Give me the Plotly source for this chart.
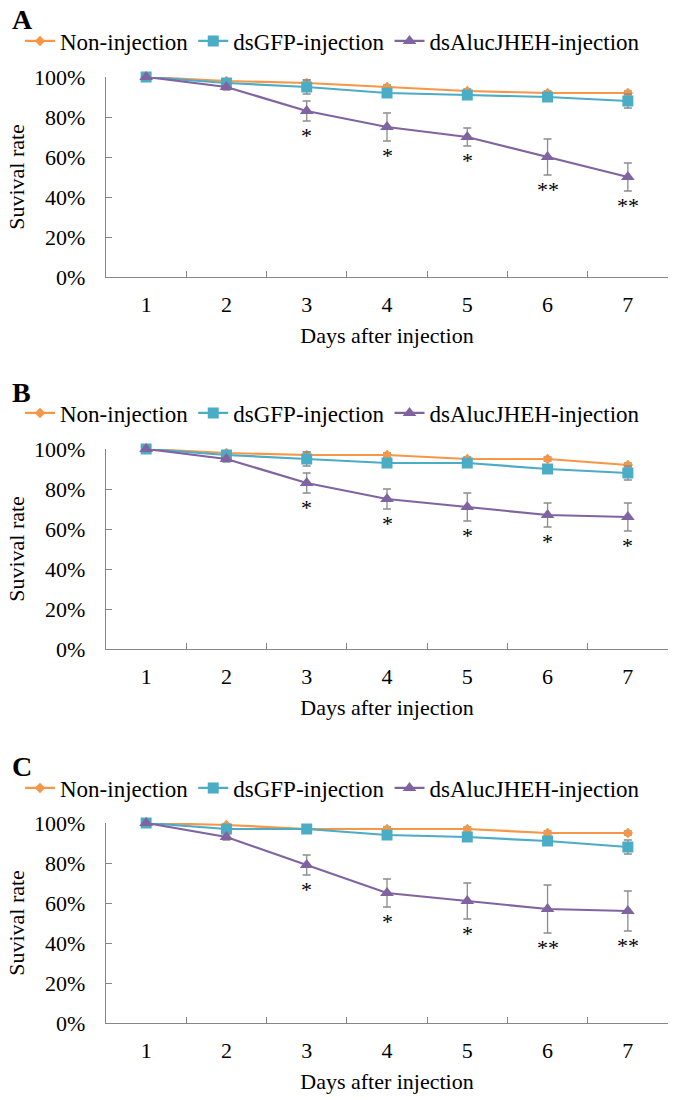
import plotly.graph_objects as go

# ---------------- data ----------------
days = ["1", "2", "3", "4", "5", "6", "7"]
series_names = ["Non-injection", "dsGFP-injection", "dsAlucJHEH-injection"]
panel_labels = ["A", "B", "C"]

# Panel A
a_non = [100, 98, 97, 95, 93, 92, 92]
a_gfp = [100, 97, 95, 92, 91, 90, 88]
a_jheh = [100, 95, 83, 75, 70, 60, 50]
a_non_err = [0, 1, 1.5, 1, 1, 1, 1]
a_gfp_err = [0, 1.5, 3.5, 1, 1, 1, 3.5]
a_jheh_err = [0, 1.5, 5, 7, 4.5, 9, 7]
a_sig = ["", "", "*", "*", "*", "**", "**"]

# Panel B
b_non = [100, 98, 97, 97, 95, 95, 92]
b_gfp = [100, 97, 95, 93, 93, 90, 88]
b_jheh = [100, 95, 83, 75, 71, 67, 66]
b_non_err = [0, 1, 1.5, 1, 1, 1, 1]
b_gfp_err = [0, 1.5, 3.5, 1, 1, 1, 3.5]
b_jheh_err = [0, 1.5, 5, 5, 7, 6, 7]
b_sig = ["", "", "*", "*", "*", "*", "*"]

# Panel C
c_non = [100, 99, 97, 97, 97, 95, 95]
c_gfp = [100, 97, 97, 94, 93, 91, 88]
c_jheh = [100, 93, 79, 65, 61, 57, 56]
c_non_err = [0, 1, 1, 1, 1, 1, 1]
c_gfp_err = [0, 1, 1, 1, 1, 1, 3.5]
c_jheh_err = [0, 1.5, 5, 7, 9, 12, 10]
c_sig = ["", "", "*", "*", "*", "**", "**"]

y_ticks = [0, 20, 40, 60, 80, 100]
y_ticklabels = ["0%", "20%", "40%", "60%", "80%", "100%"]

panels = [
    ([a_non, a_gfp, a_jheh], [a_non_err, a_gfp_err, a_jheh_err], a_sig),
    ([b_non, b_gfp, b_jheh], [b_non_err, b_gfp_err, b_jheh_err], b_sig),
    ([c_non, c_gfp, c_jheh], [c_non_err, c_gfp_err, c_jheh_err], c_sig),
]

# ---------------- style ----------------
W, H = 675, 1100
FONT = "Liberation Serif, Times New Roman, Times, serif"
colors = ["#F79646", "#4BACC6", "#8064A2"]
symbols = ["diamond", "square", "triangle-up"]
msizes = [8, 11, 12]
axis_gray = "#868686"
err_gray = "#8C8C8C"

# layout positions in page pixels
plot_left, plot_right = 106, 668
plot_tops = [77, 449, 823]
plot_h = 200
legend_y = [41, 413, 788]
legend_text_x = 60
letter_y = [19, 392, 766]
letter_x = 10


def px_x(v):
    return v / W


def px_y(v):
    return 1 - v / H


fig = go.Figure()
annotations = []
layout = {}

for p, (vals, errs, sig) in enumerate(panels):
    sfx = "" if p == 0 else str(p + 1)
    xa, ya = "x" + sfx, "y" + sfx
    leg = "legend" + sfx
    for s in range(3):
        fig.add_trace(go.Scatter(
            x=days, y=vals[s], name=series_names[s],
            xaxis=xa, yaxis=ya, legend=leg,
            mode="lines+markers",
            line=dict(color=colors[s], width=2.2),
            marker=dict(symbol=symbols[s], size=msizes[s], color=colors[s],
                        line=dict(width=0)),
            error_y=dict(type="data", array=errs[s], visible=True,
                         color=err_gray, thickness=1.3, width=4),
            cliponaxis=False,
        ))
    # significance marks below the dsAlucJHEH error bars (x = category index)
    for i, t in enumerate(sig):
        if t:
            annotations.append(dict(
                x=i, y=vals[2][i] - errs[2][i], xref=xa, yref=ya,
                text=t, showarrow=False, yanchor="top", yshift=0,
                font=dict(family=FONT, size=22, color="black")))
    top = plot_tops[p]
    ydom = [px_y(top + plot_h), px_y(top)]
    layout["xaxis" + sfx] = dict(
        domain=[px_x(plot_left), px_x(plot_right)], anchor=ya,
        type="category", range=[-0.5, 6.5], tickson="boundaries",
        ticks="inside", ticklen=6, tickcolor=axis_gray, tickwidth=1,
        showline=True, linecolor=axis_gray, linewidth=1.3,
        showgrid=False, zeroline=False, ticklabelstandoff=7,
        tickfont=dict(family=FONT, size=22, color="black"),
        title=dict(text="Days after injection", standoff=12,
                   font=dict(family=FONT, size=22, color="black")),
    )
    layout["yaxis" + sfx] = dict(
        domain=ydom, anchor=xa, range=[0, 100],
        tickmode="array", tickvals=y_ticks, ticktext=y_ticklabels,
        ticks="inside", ticklen=6, tickcolor=axis_gray,
        showline=True, linecolor=axis_gray, linewidth=1.3,
        showgrid=False, zeroline=False, ticklabelstandoff=15,
        tickfont=dict(family=FONT, size=22, color="black"),
        title=dict(text="Suvival rate", standoff=3,
                   font=dict(family=FONT, size=22, color="black")),
    )
    layout[leg] = dict(
        orientation="h", x=px_x(legend_text_x - 40), xanchor="left",
        y=px_y(legend_y[p]), yanchor="middle",
        font=dict(family=FONT, size=23, color="black"),
        bgcolor="rgba(0,0,0,0)", itemclick=False,
        tracegroupgap=0,
    )
    annotations.append(dict(
        x=px_x(letter_x), y=px_y(letter_y[p]), xref="paper", yref="paper",
        xanchor="left", yanchor="middle", showarrow=False,
        text="<b>" + panel_labels[p] + "</b>",
        font=dict(family=FONT, size=28, color="black")))

fig.update_layout(
    width=W, height=H,
    margin=dict(l=0, r=0, t=0, b=0, autoexpand=False),
    paper_bgcolor="white", plot_bgcolor="white",
    showlegend=True,
    annotations=annotations,
    **layout,
)

# place the figure flush with the page corner (no default body margin)
fig.write_html("out.html", config={"displayModeBar": False},
               post_script="document.body.style.margin='0px';")
